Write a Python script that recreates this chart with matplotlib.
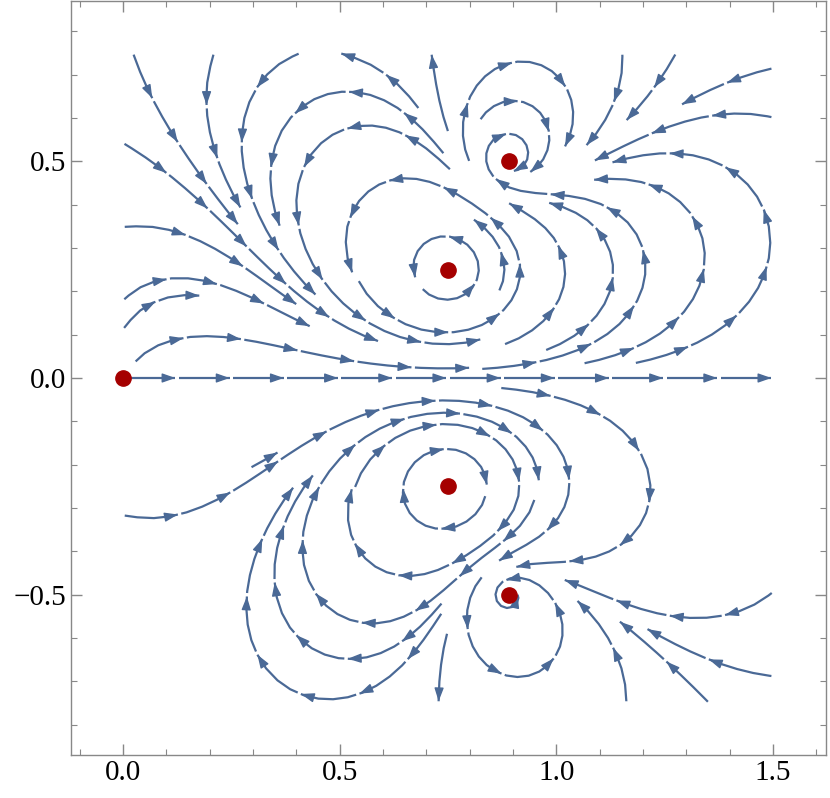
import matplotlib.pyplot as plt
import numpy as np
from matplotlib.ticker import MultipleLocator, FuncFormatter

# equilibria of the flow (the red dots)
eq_x = [0.0, 0.75, 0.75, 0.89, 0.89]
eq_y = [0.0, 0.25, -0.25, 0.5, -0.5]

# plotting window of the stream field
x_range = [0.0, 1.5]
y_range = [-0.75, 0.75]

# one point on each stream line
seed_x = [0.75, 0.67, 0.53, 0.40, 0.34, 0.54, 0.88, 0.87, 0.90, 0.91,
          1.02, 1.13, 1.34, 1.49, 1.26, 1.39, 1.21, 1.13, 0.73, 0.66,
          0.77, 0.02, 0.03, 0.11, 0.21, 0.28, 0.22, 0.15, 0.18, 0.27, 0.73, 0.71,
          0.84, 0.96, 1.03, 1.21, 0.52, 0.42, 0.35, 0.33, 0.29, 0.36,
          0.73, 0.91, 1.27, 1.15, 1.26, 1.38]
seed_y = [0.0, 0.25, 0.24, 0.41, 0.46, 0.66, 0.25, 0.56, 0.64, 0.73,
          0.24, 0.23, 0.25, 0.35, 0.58, 0.68, 0.65, 0.63, 0.64, 0.65,
          0.47, 0.53, 0.35, 0.57, 0.53, 0.60, 0.30, 0.23, 0.19, 0.09, 0.10, 0.04,
          -0.25, -0.24, -0.24, -0.21, -0.29, -0.40, -0.43, -0.67, -0.39, -0.17,
          -0.70, -0.69, -0.55, -0.67, -0.66, -0.66]

# field: dz/dt = z (z-a)(z-conj a)(z-b)(z-conj b)
a = complex(eq_x[1], eq_y[1])
b = complex(eq_x[3], eq_y[3])

xs = np.linspace(x_range[0], x_range[1], 300)
ys = np.linspace(y_range[0], y_range[1], 300)
X, Y = np.meshgrid(xs, ys)
Z = X + 1j * Y
F = Z * (Z - a) * (Z - np.conj(a)) * (Z - b) * (Z - np.conj(b))
U, V = F.real, F.imag
speed = np.hypot(U, V)
speed[speed == 0] = 1
U, V = U / speed, V / speed

col = '#4a6996'

# let matplotlib trace the streamlines on a scratch figure
tmp_fig, tmp_ax = plt.subplots()
sp = tmp_ax.streamplot(X, Y, U, V, density=1.3, minlength=0.04,
                       start_points=np.column_stack([seed_x, seed_y]))
lines = [np.asarray(s) for s in sp.lines.get_segments()]
plt.close(tmp_fig)

fig = plt.figure(figsize=(8.3, 7.98), dpi=100)
ax = fig.add_axes([71 / 830, 43 / 798, 755 / 830, 754 / 798])

piece = 0.13   # length of one arrow piece
gap = 0.008
for ln in lines:
    d = np.r_[0, np.cumsum(np.hypot(*np.diff(ln, axis=0).T))]
    total = d[-1]
    if total < 0.03:
        continue
    n = max(1, int(round(total / piece)))
    step = total / n
    for k in range(n):
        s0, s1 = k * step + gap / 2, (k + 1) * step - gap / 2
        m = (d >= s0) & (d <= s1)
        px = np.r_[np.interp(s0, d, ln[:, 0]), ln[m, 0], np.interp(s1, d, ln[:, 0])]
        py = np.r_[np.interp(s0, d, ln[:, 1]), ln[m, 1], np.interp(s1, d, ln[:, 1])]
        ax.plot(px, py, color=col, lw=1.6, solid_capstyle='butt')
        back = max(s1 - 0.025, s0)
        ax.annotate('', xy=(px[-1], py[-1]),
                    xytext=(np.interp(back, d, ln[:, 0]), np.interp(back, d, ln[:, 1])),
                    arrowprops=dict(arrowstyle='-|>,head_length=0.8,head_width=0.28',
                                    color=col, lw=1.0, shrinkA=0, shrinkB=0))

ax.plot(eq_x, eq_y, 'o', color='#a50000', markersize=11, zorder=5)

ax.set_xlim(-0.12, 1.622)
ax.set_ylim(-0.87, 0.87)

for s in ax.spines.values():
    s.set_color('#888888')
    s.set_linewidth(1.0)
ax.xaxis.set_major_locator(MultipleLocator(0.5))
ax.xaxis.set_minor_locator(MultipleLocator(0.1))
ax.yaxis.set_major_locator(MultipleLocator(0.5))
ax.yaxis.set_minor_locator(MultipleLocator(0.1))
fmt = FuncFormatter(lambda v, p: ('%.1f' % v).replace('-', '\u2212'))
ax.xaxis.set_major_formatter(fmt)
ax.yaxis.set_major_formatter(fmt)
ax.tick_params(which='both', direction='in', top=True, right=True, color='#888888',
               labelsize=21, labelfontfamily='Liberation Serif')
ax.tick_params(which='major', length=8, width=1)
ax.tick_params(which='minor', length=4, width=0.8)

fig.savefig('out.png', dpi=100)
